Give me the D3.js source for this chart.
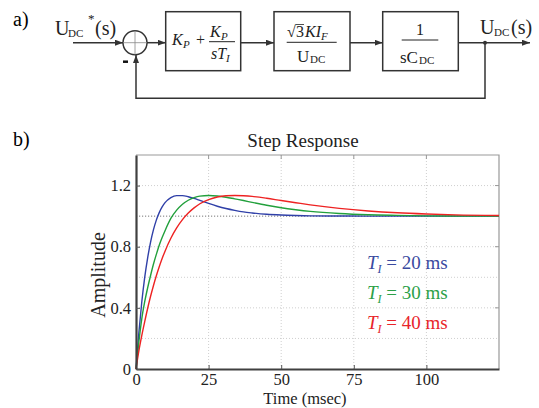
<!DOCTYPE html>
<html>
<head>
<meta charset="utf-8">
<script src="https://cdn.jsdelivr.net/npm/d3@7"></script>
<style>
  body { margin: 0; background: #fff; }
  svg { display: block; }
  text { font-family: "Liberation Serif", "Times New Roman", serif; }
</style>
</head>
<body>
<div id="chart"></div>
<script>
// Step response data (time in msec)
var timeMs = [0, 1, 2, 3, 4, 5, 6, 7, 8, 9, 10, 12, 14, 16, 18, 20, 22, 25, 28, 31, 34, 37, 40, 45, 50, 55, 60, 70, 80, 90, 100, 110, 125];
var respTi20 = [0, 0.24, 0.44, 0.60, 0.726, 0.829, 0.91, 0.974, 1.023, 1.06, 1.088, 1.121, 1.134, 1.134, 1.127, 1.116, 1.103, 1.083, 1.065, 1.05, 1.038, 1.028, 1.021, 1.012, 1.007, 1.004, 1.002, 1.001, 1.0, 1.0, 1.0, 1.0, 1.0];
var respTi30 = [0, 0.18, 0.33, 0.44, 0.53, 0.61, 0.685, 0.75, 0.81, 0.86, 0.905, 0.985, 1.039, 1.078, 1.104, 1.121, 1.131, 1.135, 1.132, 1.124, 1.113, 1.102, 1.09, 1.071, 1.055, 1.042, 1.031, 1.017, 1.009, 1.005, 1.002, 1.001, 1.0];
var respTi40 = [0, 0.12, 0.22, 0.31, 0.396, 0.474, 0.545, 0.61, 0.669, 0.723, 0.771, 0.855, 0.923, 0.977, 1.02, 1.054, 1.081, 1.108, 1.125, 1.133, 1.135, 1.133, 1.129, 1.117, 1.102, 1.088, 1.074, 1.051, 1.034, 1.022, 1.014, 1.008, 1.004];
var legendLabels = ["20 ms", "30 ms", "40 ms"];
var lineColors = ["#3040a8", "#22a03c", "#ee2222"];
var textColors = ["#3a4aa0", "#2ca048", "#e8242a"];
var xTicks = [0, 25, 50, 75, 100];
var yTicks = [0, 0.4, 0.8, 1.2];
var yGrid = [0.2, 0.4, 0.6, 0.8, 1.2];

var svg = d3.select("#chart").append("svg")
    .attr("width", 539)
    .attr("height", 408);

var ink = "#333";

// ---------- a) block diagram ----------
var defs = svg.append("defs");
defs.append("marker")
    .attr("id", "arrow")
    .attr("viewBox", "0 0 8 6")
    .attr("refX", 8).attr("refY", 3)
    .attr("markerWidth", 8).attr("markerHeight", 6)
    .attr("markerUnits", "userSpaceOnUse")
    .attr("orient", "auto")
    .append("path")
    .attr("d", "M0,0 L8,3 L0,6 z")
    .attr("fill", ink);

var dia = svg.append("g");
var sy = 42.7; // signal line level

function wire(points, arrow) {
    var p = dia.append("path")
        .attr("d", d3.line()(points))
        .attr("fill", "none")
        .attr("stroke", ink)
        .attr("stroke-width", 1.5);
    if (arrow) p.attr("marker-end", "url(#arrow)");
    return p;
}

dia.append("text").attr("x", 13).attr("y", 26).attr("font-size", 20).text("a)");

// input label U_DC*(s)
var inLbl = dia.append("text").attr("y", 35).attr("font-size", 20).attr("fill", "#222");
inLbl.append("tspan").attr("x", 55).text("U");
inLbl.append("tspan").attr("x", 68).attr("y", 37).attr("font-size", 11).text("DC");
inLbl.append("tspan").attr("x", 88).attr("y", 23).attr("font-size", 13).text("*");
inLbl.append("tspan").attr("x", 95).attr("y", 35).text("(s)");

// summing junction
wire([[73, sy], [123, sy]], true);
dia.append("circle").attr("cx", 135).attr("cy", sy).attr("r", 12)
    .attr("fill", "none").attr("stroke", ink).attr("stroke-width", 1.5);
wire([[123, sy], [147, sy]]).attr("stroke", "#888").attr("stroke-width", 0.8);
dia.append("path").attr("d", "M135," + (sy - 12) + "V" + (sy + 12))
    .attr("stroke", "#888").attr("stroke-width", 0.8);
dia.append("path").attr("d", "M123,61.7H128")
    .attr("stroke", "#111").attr("stroke-width", 2.5);

// blocks
var blocks = [
    { x: 165.7, w: 75 },
    { x: 274, w: 76 },
    { x: 382.7, w: 75.6 }
];
blocks.forEach(function (b) {
    dia.append("rect").attr("x", b.x).attr("y", 11.7).attr("width", b.w).attr("height", 59)
        .attr("fill", "none").attr("stroke", ink).attr("stroke-width", 1.5);
});

wire([[147, sy], [165.7, sy]], true);
wire([[240.7, sy], [274, sy]], true);
wire([[350, sy], [382.7, sy]], true);
wire([[458.3, sy], [530, sy]], true);
dia.append("circle").attr("cx", 485).attr("cy", sy).attr("r", 2).attr("fill", ink);
wire([[485, sy], [485, 98.3], [136, 98.3], [136, 55]], true);

// block 1: K_P + K_P / (s T_I)
var b1 = dia.append("text").attr("y", 45).attr("font-size", 16).attr("fill", "#222");
b1.append("tspan").attr("x", 172).attr("font-style", "italic").text("K");
b1.append("tspan").attr("x", 183).attr("y", 48).attr("font-size", 11).attr("font-style", "italic").text("P");
b1.append("tspan").attr("x", 196).attr("y", 45).text("+");
var b1n = dia.append("text").attr("y", 37).attr("font-size", 16).attr("fill", "#222");
b1n.append("tspan").attr("x", 210).attr("font-style", "italic").text("K");
b1n.append("tspan").attr("x", 221).attr("y", 40).attr("font-size", 11).attr("font-style", "italic").text("P");
dia.append("path").attr("d", "M209,41.7H235").attr("stroke", "#222").attr("stroke-width", 1);
var b1d = dia.append("text").attr("y", 59).attr("font-size", 16).attr("fill", "#222").attr("font-style", "italic");
b1d.append("tspan").attr("x", 211).text("sT");
b1d.append("tspan").attr("x", 226).attr("y", 62).attr("font-size", 11).text("I");

// block 2: sqrt(3) K I_F / U_DC
var b2n = dia.append("text").attr("y", 37).attr("font-size", 16).attr("fill", "#222");
b2n.append("tspan").attr("x", 287).text("\u221A");
b2n.append("tspan").attr("x", 296).text("3");
b2n.append("tspan").attr("x", 305).attr("font-style", "italic").text("KI");
b2n.append("tspan").attr("x", 321).attr("y", 40).attr("font-size", 11).attr("font-style", "italic").text("F");
dia.append("path").attr("d", "M295.5,24.5H304").attr("stroke", "#222").attr("stroke-width", 0.8);
dia.append("path").attr("d", "M286.7,42.3H336.7").attr("stroke", "#222").attr("stroke-width", 1);
var b2d = dia.append("text").attr("y", 62).attr("font-size", 17).attr("fill", "#222");
b2d.append("tspan").attr("x", 297).text("U");
b2d.append("tspan").attr("x", 310).attr("y", 63).attr("font-size", 11).text("DC");

// block 3: 1 / (s C_DC)
dia.append("text").attr("x", 420).attr("y", 35).attr("font-size", 16).attr("fill", "#222")
    .attr("text-anchor", "middle").text("1");
dia.append("path").attr("d", "M401.7,40H438.3").attr("stroke", "#222").attr("stroke-width", 1);
var b3d = dia.append("text").attr("y", 63).attr("font-size", 17).attr("fill", "#222");
b3d.append("tspan").attr("x", 400).text("sC");
b3d.append("tspan").attr("x", 419).attr("y", 64).attr("font-size", 11).text("DC");

// output label U_DC(s)
var outLbl = dia.append("text").attr("y", 34).attr("font-size", 20).attr("fill", "#222");
outLbl.append("tspan").attr("x", 480).text("U");
outLbl.append("tspan").attr("x", 494).attr("y", 36).attr("font-size", 11).text("DC");
outLbl.append("tspan").attr("x", 511).attr("y", 34).text("(s)");

// ---------- b) step response ----------
svg.append("text").attr("x", 13).attr("y", 146).attr("font-size", 20).text("b)");

var margin = { top: 155, right: 40, bottom: 39, left: 136 },
    width = 539 - margin.left - margin.right,
    height = 408 - margin.top - margin.bottom;

var g = svg.append("g").attr("transform", `translate(${margin.left}, ${margin.top})`);

var x = d3.scaleLinear().domain([0, 125]).range([0, width]);
var y = d3.scaleLinear().domain([0, 1.4]).range([height, 0]);

// grid
g.selectAll(".vgrid").data(xTicks.slice(1)).enter().append("line")
    .attr("x1", d => x(d)).attr("x2", d => x(d))
    .attr("y1", 0).attr("y2", height)
    .attr("stroke", "#cfcfcf").attr("stroke-dasharray", "1,2");
g.selectAll(".hgrid").data(yGrid).enter().append("line")
    .attr("x1", 0).attr("x2", width)
    .attr("y1", d => y(d)).attr("y2", d => y(d))
    .attr("stroke", "#cfcfcf").attr("stroke-dasharray", "1,2");
// steady-state reference
g.append("line")
    .attr("x1", 0).attr("x2", width)
    .attr("y1", y(1)).attr("y2", y(1))
    .attr("stroke", "#777").attr("stroke-dasharray", "1.2,1.8");

// top / right frame with inward ticks
g.append("path").attr("d", `M0,0H${width}V${height}`)
    .attr("fill", "none").attr("stroke", "#999").attr("stroke-width", 1.2);
g.selectAll(".tt").data(xTicks.slice(1)).enter().append("line")
    .attr("x1", d => x(d)).attr("x2", d => x(d)).attr("y1", 0).attr("y2", 4)
    .attr("stroke", "#999");
g.selectAll(".rt").data(yTicks.slice(1)).enter().append("line")
    .attr("x1", width).attr("x2", width - 4).attr("y1", d => y(d)).attr("y2", d => y(d))
    .attr("stroke", "#999");

// curves
var series = [respTi20, respTi30, respTi40];
var line = d3.line()
    .x(d => x(d.t))
    .y(d => y(d.v))
    .curve(d3.curveMonotoneX);
series.forEach(function (vals, i) {
    var pts = timeMs.map((t, k) => ({ t: t, v: vals[k] }));
    g.append("path")
        .datum(pts)
        .attr("d", line)
        .attr("fill", "none")
        .attr("stroke", lineColors[i])
        .attr("stroke-width", 1.4);
});

// axes
var xAxis = g.append("g").attr("transform", `translate(0, ${height})`)
    .call(d3.axisBottom(x).tickValues(xTicks).tickSizeInner(-4).tickSizeOuter(0).tickPadding(4));
var yAxis = g.append("g")
    .call(d3.axisLeft(y).tickValues(yTicks).tickSizeInner(-4).tickSizeOuter(0).tickPadding(5)
        .tickFormat(d => d === 0 ? "0" : d3.format(".1f")(d)));
[xAxis, yAxis].forEach(function (a) {
    a.select(".domain").attr("stroke", "#404040").attr("stroke-width", 2.2);
    a.selectAll(".tick line").attr("stroke", "#555");
    a.selectAll("text")
        .style("font-family", "Liberation Serif, serif")
        .style("font-size", "16.5px")
        .attr("fill", "#222");
});

// titles
svg.append("text").attr("x", 303).attr("y", 147).attr("font-size", 19)
    .attr("text-anchor", "middle").attr("fill", "#222").text("Step Response");
svg.append("text").attr("x", 305).attr("y", 404).attr("font-size", 16.5)
    .attr("text-anchor", "middle").attr("fill", "#222").text("Time (msec)");
svg.append("text").attr("transform", "translate(105, 275) rotate(-90)")
    .attr("font-size", 20).attr("text-anchor", "middle").attr("fill", "#222").text("Amplitude");

// legend
legendLabels.forEach(function (lab, i) {
    var t = svg.append("text").attr("x", 367).attr("y", 269 + i * 30)
        .attr("font-size", 19).attr("fill", textColors[i]);
    t.append("tspan").attr("font-style", "italic").text("T");
    t.append("tspan").attr("font-style", "italic").attr("font-size", 12).attr("dy", 4).text("I");
    t.append("tspan").attr("dy", -4).text(" = " + lab);
});
</script>
</body>
</html>
